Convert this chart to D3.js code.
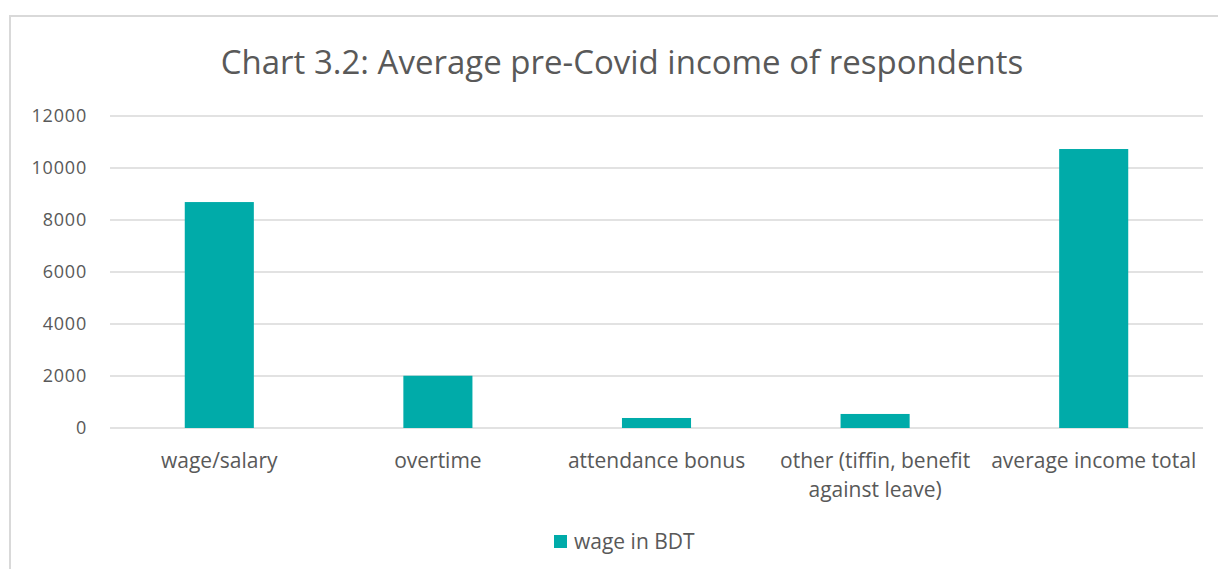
<!DOCTYPE html>
<html>
<head>
<meta charset="utf-8">
<script src="https://cdn.jsdelivr.net/npm/d3@7"></script>
<style>
  body { margin: 0; background: #fff; }
  text { font-family: "Open Sans", sans-serif; fill: #595959; }
</style>
</head>
<body>
<svg id="chart"></svg>
<script>
let categories = ["wage/salary", "overtime", "attendance bonus", "other (tiffin, benefit|against leave)", "average income total"]
let wages = [8690, 2010, 385, 540, 10730]
let yTicks = [0, 2000, 4000, 6000, 8000, 10000, 12000]
let seriesName = "wage in BDT"
let title = "Chart 3.2: Average pre-Covid income of respondents"

let width = 1218
let height = 569
let plotLeft = 110
let plotRight = 1203
let plotTop = 116
let plotBottom = 428
let barColor = "#00aba9"

let svg = d3.select('#chart')
  .attr('width', width)
  .attr('height', height)

// chart frame (runs off the right/bottom edge like the screenshot)
svg.append('rect')
  .attr('x', 10)
  .attr('y', 16)
  .attr('width', width + 20)
  .attr('height', height + 20)
  .attr('fill', 'none')
  .attr('stroke', '#d9d9d9')
  .attr('stroke-width', 2)

svg.append('text')
  .attr('x', 622)
  .attr('y', 74)
  .attr('text-anchor', 'middle')
  .style('font-size', '33px')
  .text(title)

let xScale = d3.scaleBand()
  .domain(categories)
  .range([plotLeft, plotRight])
  .paddingInner(0.684)
  .paddingOuter(0.342)

let yScale = d3.scaleLinear()
  .domain([0, 12000])
  .range([plotBottom, plotTop])

// gridlines
svg.append('g')
  .selectAll('line')
  .data(yTicks)
  .enter()
  .append('line')
  .attr('x1', plotLeft)
  .attr('x2', plotRight)
  .attr('y1', d => yScale(d))
  .attr('y2', d => yScale(d))
  .attr('stroke', '#d9d9d9')
  .attr('stroke-width', 1.5)

let yAxis = d3.axisLeft(yScale)
  .tickValues(yTicks)
  .tickSize(0)
  .tickPadding(0)
  .tickFormat(d3.format('d'))

let yg = svg.append('g')
  .attr('transform', 'translate(87,0)')
  .call(yAxis)
yg.select('.domain').remove()
yg.selectAll('text')
  .style('font-size', '18px')
  .style('letter-spacing', '0.8px')
  .attr('fill', '#595959')

svg.append('g')
  .selectAll('rect')
  .data(wages)
  .enter()
  .append('rect')
  .attr('x', (d, i) => xScale(categories[i]))
  .attr('width', xScale.bandwidth())
  .attr('y', d => yScale(d))
  .attr('height', d => plotBottom - yScale(d))
  .attr('fill', barColor)

// category labels, centred on each category slot
let xAxis = d3.axisBottom(xScale)
  .tickSize(0)
  .tickPadding(0)
  .tickFormat('')

let xg = svg.append('g')
  .attr('transform', 'translate(0,' + plotBottom + ')')
  .call(xAxis)
xg.select('.domain').remove()

xg.selectAll('.tick')
  .append('text')
  .attr('text-anchor', 'middle')
  .style('font-size', '21px')
  .attr('fill', '#595959')
  .each(function (d) {
    let lines = d.split('|')
    let t = d3.select(this)
    lines.forEach((ln, k) => {
      t.append('tspan')
        .attr('x', 0)
        .attr('y', 40 + k * 29)
        .text(ln)
    })
  })

// legend
let legend = svg.append('g').attr('transform', 'translate(554,535)')
legend.append('rect')
  .attr('width', 13)
  .attr('height', 13)
  .attr('fill', barColor)
legend.append('text')
  .attr('x', 20)
  .attr('y', 14)
  .style('font-size', '21px')
  .text(seriesName)
</script>
</body>
</html>
